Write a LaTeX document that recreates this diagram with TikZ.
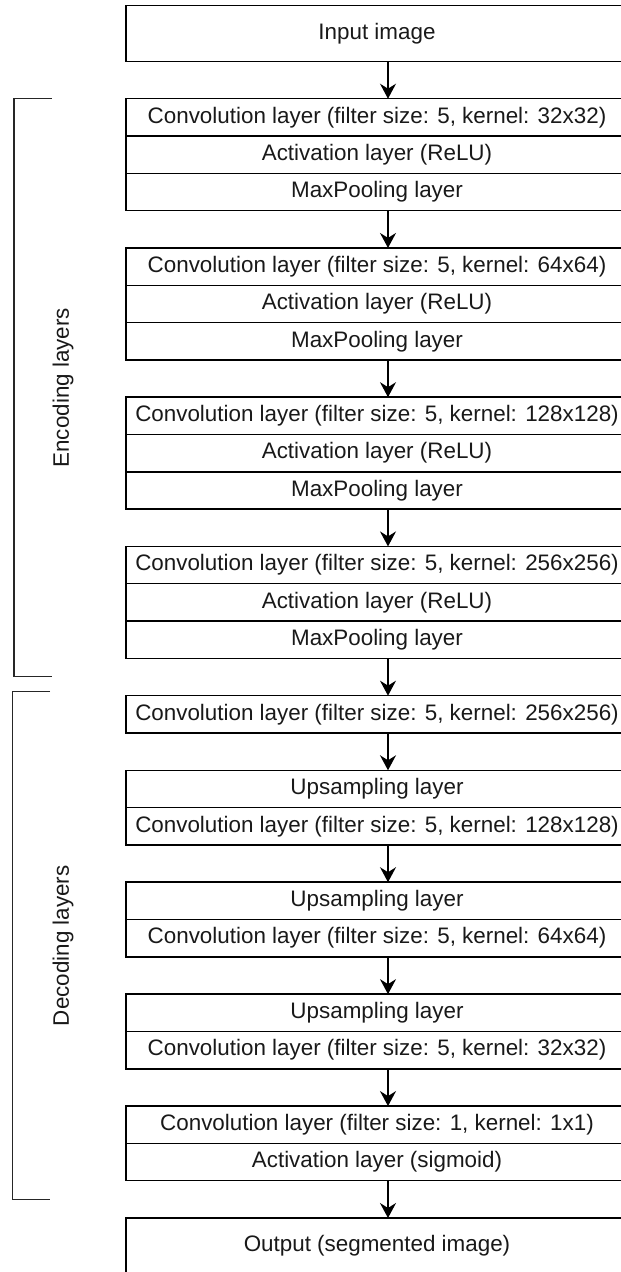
\documentclass[tikz,border=0pt]{standalone}
\usepackage{fontspec}
\setmainfont{Liberation Sans}
\usetikzlibrary{arrows.meta}

\begin{document}
\begin{tikzpicture}[x=1pt,y=-1pt,
  layer/.style={draw=black, line width=1.5pt, rectangle, inner sep=0pt, outer sep=0pt,
    minimum width=502pt, minimum height=37.31pt, anchor=north west,
    font=\fontsize{22.4}{26}\selectfont, text=black!90},
  bigbox/.style={layer, minimum height=55.97pt},
  flow/.style={line width=1.5pt, -{Stealth[length=15pt, width=16pt, inset=5pt]}},
  brace/.style={line width=1.5pt, draw=black!85},
  side/.style={font=\fontsize{22.4}{26}\selectfont, text=black!90, rotate=90}]
\useasboundingbox (0,0) rectangle (621,1272);
\clip (0,0) rectangle (621,1272);
\def\u{37.31}

% input
\node[bigbox] (in) at (126,5.4) {Input image};

% encoding blocks
\node[layer] (e1a) at (126,98.7) {Convolution layer (filter size: 5, kernel: 32x32)};
\node[layer] (e1b) at (126,98.7+\u) {Activation layer (ReLU)};
\node[layer] (e1c) at (126,98.7+2*\u) {MaxPooling layer};

\node[layer] (e2a) at (126,98.7+4*\u) {Convolution layer (filter size: 5, kernel: 64x64)};
\node[layer] (e2b) at (126,98.7+5*\u) {Activation layer (ReLU)};
\node[layer] (e2c) at (126,98.7+6*\u) {MaxPooling layer};

\node[layer] (e3a) at (126,98.7+8*\u) {Convolution layer (filter size: 5, kernel: 128x128)};
\node[layer] (e3b) at (126,98.7+9*\u) {Activation layer (ReLU)};
\node[layer] (e3c) at (126,98.7+10*\u) {MaxPooling layer};

\node[layer] (e4a) at (126,98.7+12*\u) {Convolution layer (filter size: 5, kernel: 256x256)};
\node[layer] (e4b) at (126,98.7+13*\u) {Activation layer (ReLU)};
\node[layer] (e4c) at (126,98.7+14*\u) {MaxPooling layer};

% decoding blocks
\node[layer] (d1) at (126,98.7+16*\u) {Convolution layer (filter size: 5, kernel: 256x256)};

\node[layer] (d2a) at (126,98.7+18*\u) {Upsampling layer};
\node[layer] (d2b) at (126,98.7+19*\u) {Convolution layer (filter size: 5, kernel: 128x128)};

\node[layer] (d3a) at (126,98.7+21*\u) {Upsampling layer};
\node[layer] (d3b) at (126,98.7+22*\u) {Convolution layer (filter size: 5, kernel: 64x64)};

\node[layer] (d4a) at (126,98.7+24*\u) {Upsampling layer};
\node[layer] (d4b) at (126,98.7+25*\u) {Convolution layer (filter size: 5, kernel: 32x32)};

\node[layer] (d5a) at (126,98.7+27*\u) {Convolution layer (filter size: 1, kernel: 1x1)};
\node[layer] (d5b) at (126,98.7+28*\u) {Activation layer (sigmoid)};

% output
\node[bigbox] (out) at (126,98.7+30*\u) {Output (segmented image)};

% data flow
\foreach \a/\b in {in/e1a, e1c/e2a, e2c/e3a, e3c/e4a, e4c/d1, d1/d2a, d2b/d3a, d3b/d4a, d4b/d5a, d5b/out}
  \draw[flow] ([xshift=11pt]\a.south) -- ([xshift=11pt]\b.north);

% group brackets
\coordinate (encT) at (51.7,98.7);
\coordinate (encB) at (51.7,676.7);
\draw[brace] (encT) -- (14,98.7) -- (14,676.7) -- (encB);
\node[side] (enc) at (63,387.7) {Encoding layers};

\coordinate (decT) at (50,691.7);
\coordinate (decB) at (50,1199.7);
\draw[brace] (decT) -- (12.3,691.7) -- (12.3,1199.7) -- (decB);
\node[side] (dec) at (63,945.7) {Decoding layers};
\end{tikzpicture}
\end{document}
